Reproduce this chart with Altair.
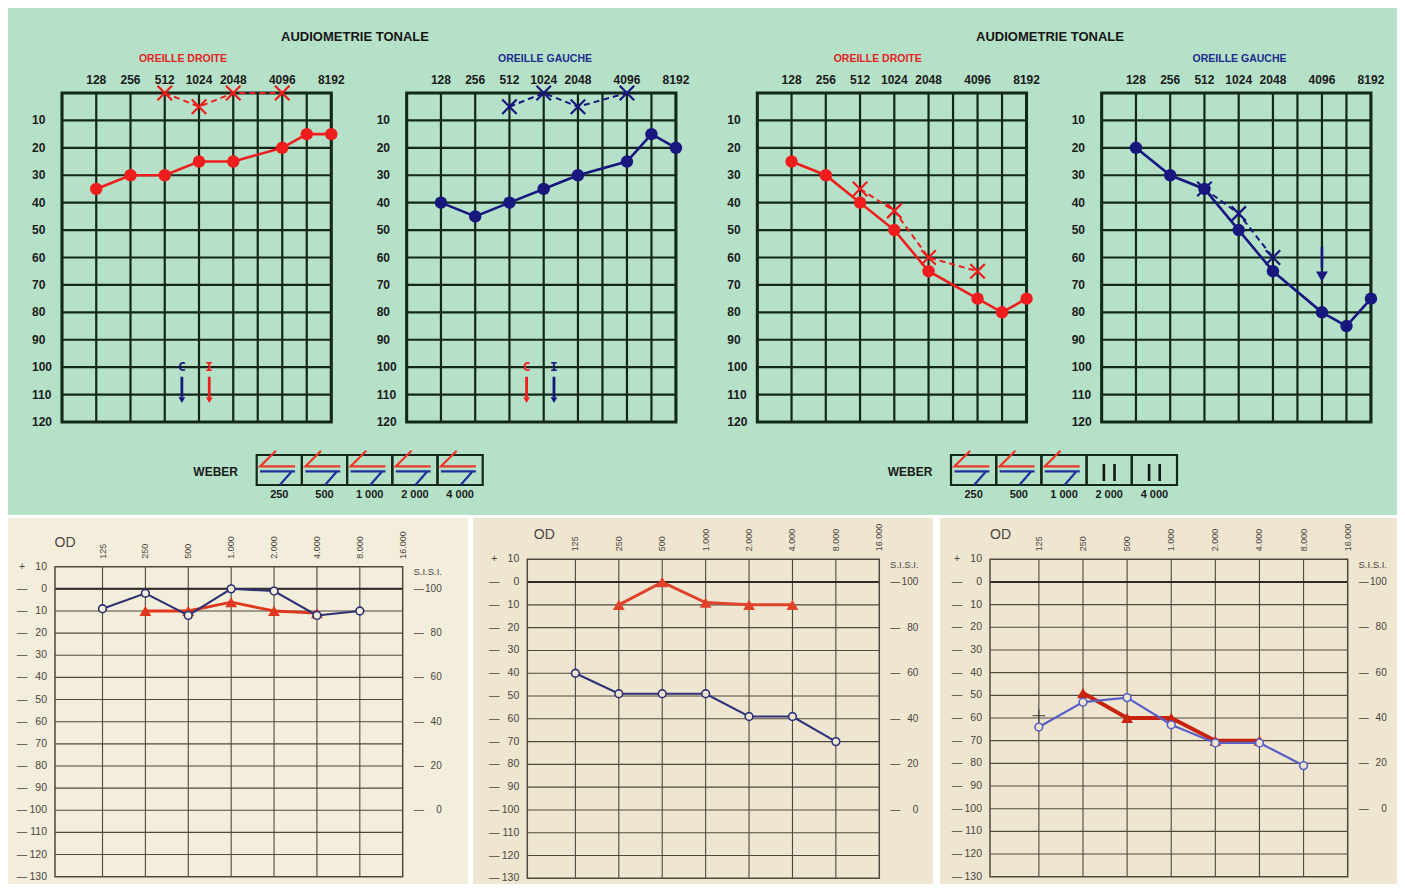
import altair as alt
import pandas as pd

# ---------------- data ----------------
# Upper audiograms (AUDIOMETRIE TONALE), thresholds in dB
top_freqs = [128, 256, 512, 1024, 2048, 4096, 6144, 8192]
od_a_air = [35, 30, 30, 25, 25, 20, 15, 15]
og_a_air = [40, 45, 40, 35, 30, 25, 15, 20]
od_b_air = [25, 30, 40, 50, 65, 75, 80, 75]
og_b_air = [20, 30, 35, 50, 65, 80, 85, 75]

bone_freqs = [512, 1024, 2048, 4096]
od_a_bone = [0, 5, 0, 0]
og_a_bone = [5, 0, 5, 0]
od_b_bone = [35, 43, 60, 65]
og_b_bone_freqs = [512, 1024, 2048]
og_b_bone = [35, 44, 60]

reflex_freqs = [768, 1331]
reflex_letters = ["C", "I"]
reflex_db = 100

og_b_arrow_freq = 4096
og_b_arrow_db = [56, 67]

weber_freqs = ["250", "500", "1 000", "2 000", "4 000"]
weber_a = ["lat", "lat", "lat", "lat", "lat"]
weber_b = ["lat", "lat", "lat", "mid", "mid"]

top_grid_freqs = [64, 128, 256, 512, 1024, 2048, 3072, 4096, 6144, 8192]
top_label_freqs = [128, 256, 512, 1024, 2048, 4096, 8192]
top_db_lines = list(range(0, 130, 10))
top_db_labels = list(range(10, 130, 10))

# Lower audiograms (OD)
low_freqs = [125, 250, 500, 1000, 2000, 4000, 8000]
low_label_freqs = [125, 250, 500, 1000, 2000, 4000, 8000, 16000]
low_labels = ["125", "250", "500", "1.000", "2.000", "4.000", "8.000", "16.000"]
red_freqs = [250, 500, 1000, 2000, 4000]
p1_blue = [9, 2, 12, 0, 1, 12, 10]
p1_red = [10, 10, 6, 10, 11]
p2_blue = [40, 49, 49, 49, 59, 59, 70]
p2_red = [10, 0, 9, 10, 10]
p3_blue = [64, 53, 51, 63, 71, 71, 81]
p3_red = [49, 60, 60, 70, 70]
p3_mark_freq = [125]
p3_mark_db = [59]
low_db_lines = list(range(0, 130, 10))
low_db_labels = list(range(-10, 140, 10))
sisi_values = [100, 80, 60, 40, 20, 0]

# ---------------- styling ----------------
FONT = "Liberation Sans"
GREEN = "#b5e1c8"
GRID_T = "#13271a"
RED = "#ef1d1d"
NAVY = "#17177e"
TITLE_RED = "#e3241f"
TITLE_NAVY = "#1f2b8c"
W_RED = "#f0362b"
W_BLUE = "#22309c"
GRID_B = "#50473f"
TXT_B = "#4a4540"
XPATH = "M-1,-1L1,1M1,-1L-1,1"
PLUS = "M-1,0L1,0M0,-1L0,1"
W_RED_PATH = "M-0.18,-0.89L-1.01,-0.07L0.83,-0.07"
W_BLUE_PATH = "M-1.01,0.19L0.83,0.19M0.66,0.19L0.04,0.9"
W_MID_PATH = "M-0.28,-0.2L-0.28,0.7M0.28,-0.2L0.28,0.7"


def P(v):
    return v - 8


ONE = pd.DataFrame({"a": [0]})


def vtext(txt, x, y, **kw):
    return alt.Chart(ONE).mark_text(text=txt, font=FONT, baseline="middle", **kw).encode(
        x=alt.value(P(x)), y=alt.value(P(y)))


def vrect(x0, x1, y0, y1, color):
    return alt.Chart(ONE).mark_rect(color=color, opacity=1).encode(
        x=alt.value(P(x0)), x2=alt.value(P(x1)), y=alt.value(P(y0)), y2=alt.value(P(y1)))


def top_panel(left, air, bfreqs, bone, color, title, tcolor, title_x,
              reflex_colors=None, arrow=False):
    xs = alt.Scale(type="linear",
                   domain=[64, 128, 256, 512, 1024, 2048, 4096, 8192],
                   range=[P(left + k * 34.25) for k in range(6)] + [P(left + 220.25), P(left + 269.25)],
                   zero=False, nice=False)
    ys = alt.Scale(domain=[0, 120], range=[P(93), P(422)], zero=False, nice=False)

    def X(f):
        return alt.X(f, type="quantitative", scale=xs, axis=None)

    def Y(f):
        return alt.Y(f, type="quantitative", scale=ys, axis=None)

    vg = pd.DataFrame({"f": top_grid_freqs, "d0": 0, "d1": 120})
    hg = pd.DataFrame({"d": top_db_lines, "f0": 64, "f1": 8192})
    box = pd.DataFrame({"f0": [64], "f1": [8192], "d0": [0], "d1": [120]})
    air_df = pd.DataFrame({"f": top_freqs, "d": air})
    bone_df = pd.DataFrame({"f": bfreqs, "d": bone})
    layers = [
        alt.Chart(vg).mark_rule(color=GRID_T, strokeWidth=2.2).encode(x=X("f"), y=Y("d0"), y2="d1"),
        alt.Chart(hg).mark_rule(color=GRID_T, strokeWidth=2.2).encode(x=X("f0"), x2="f1", y=Y("d")),
        alt.Chart(box).mark_rect(fill="transparent", stroke=GRID_T, strokeWidth=3).encode(
            x=X("f0"), x2="f1", y=Y("d0"), y2="d1"),
        alt.Chart(pd.DataFrame({"d": top_db_labels})).mark_text(
            align="left", baseline="middle", font=FONT, fontWeight="bold", fontSize=12, color="#1b1b1b"
        ).encode(x=alt.value(P(left - 30)), y=Y("d"), text="d:N"),
        alt.Chart(pd.DataFrame({"f": top_label_freqs})).mark_text(
            baseline="middle", font=FONT, fontWeight="bold", fontSize=12, color="#1b1b1b"
        ).encode(x=X("f"), y=alt.value(P(80)), text="f:N"),
        vtext(title, title_x, 59, fontWeight="bold", fontSize=10.5, color=tcolor),
        alt.Chart(bone_df).mark_line(color=color, strokeWidth=2, strokeDash=[6, 4]).encode(x=X("f"), y=Y("d")),
        alt.Chart(bone_df).mark_point(shape=XPATH, size=210, strokeWidth=2.2, color=color,
                                      filled=False, opacity=1).encode(x=X("f"), y=Y("d")),
        alt.Chart(air_df).mark_line(color=color, strokeWidth=2.6).encode(x=X("f"), y=Y("d")),
        alt.Chart(air_df).mark_circle(color=color, size=155, opacity=1).encode(x=X("f"), y=Y("d")),
    ]
    if reflex_colors is not None:
        rf = pd.DataFrame({"f": reflex_freqs, "t": reflex_letters, "c": reflex_colors,
                           "d": reflex_db, "a0": 103.5, "a1": 111, "h": 112})
        layers += [
            alt.Chart(rf).mark_text(font="DejaVu Sans Mono", fontWeight="bold", fontSize=13,
                                    baseline="middle").encode(
                x=X("f"), y=Y("d"), text="t:N", color=alt.Color("c:N", scale=None)),
            alt.Chart(rf).mark_rule(strokeWidth=2.8).encode(
                x=X("f"), y=Y("a0"), y2="a1", color=alt.Color("c:N", scale=None)),
            alt.Chart(rf).mark_point(shape="triangle-down", size=45, filled=True, opacity=1).encode(
                x=X("f"), y=Y("h"), color=alt.Color("c:N", scale=None)),
        ]
    if arrow:
        ar = pd.DataFrame({"f": [og_b_arrow_freq], "a0": [og_b_arrow_db[0]], "a1": [og_b_arrow_db[1] - 3],
                           "h": [og_b_arrow_db[1]]})
        layers += [
            alt.Chart(ar).mark_rule(color=color, strokeWidth=2.6).encode(x=X("f"), y=Y("a0"), y2="a1"),
            alt.Chart(ar).mark_point(shape="triangle-down", size=140, filled=True, color=color,
                                     opacity=1).encode(x=X("f"), y=Y("h")),
        ]
    return alt.layer(*layers)


def weber(L, results):
    ws = alt.Scale(domain=[0, 5], range=[P(L), P(L + 226)], zero=False, nice=False)
    df = pd.DataFrame({"i": list(range(5)), "i1": list(range(1, 6)),
                       "c": [i + 0.5 for i in range(5)], "lab": weber_freqs, "r": results})

    def X(f):
        return alt.X(f, type="quantitative", scale=ws, axis=None)

    return alt.layer(
        alt.Chart(df).mark_rect(fill="transparent", stroke=GRID_T, strokeWidth=2.2).encode(
            x=X("i"), x2="i1", y=alt.value(P(455)), y2=alt.value(P(485))),
        alt.Chart(df).transform_filter("datum.r == 'lat'").mark_point(
            shape=W_RED_PATH, size=1444, strokeWidth=2.2, color=W_RED, filled=False, opacity=1
        ).encode(x=X("c"), y=alt.value(P(467.7))),
        alt.Chart(df).transform_filter("datum.r == 'lat'").mark_point(
            shape=W_BLUE_PATH, size=1444, strokeWidth=2.2, color=W_BLUE, filled=False, opacity=1
        ).encode(x=X("c"), y=alt.value(P(467.7))),
        alt.Chart(df).transform_filter("datum.r == 'mid'").mark_point(
            shape=W_MID_PATH, size=1444, strokeWidth=2.6, color="#151515", filled=False, opacity=1
        ).encode(x=X("c"), y=alt.value(P(467.7))),
        alt.Chart(df).mark_text(font=FONT, fontWeight="bold", fontSize=11, color="#1b1b1b",
                                baseline="middle").encode(x=X("c"), y=alt.value(P(494.5)), text="lab:N"),
        vtext("WEBER", L - 41, 471.5, fontWeight="bold", fontSize=12, color="#1b1b1b"),
    )


def bottom_panel(bx0, bx1, bg, left, right, top, bottom, od_dx, blue, red, blue_c, red_c,
                 blue_w, red_w, extra=False):
    xs = alt.Scale(type="log", base=2, domain=[58, 16000], range=[P(left), P(right)], nice=False, zero=False)
    ys = alt.Scale(domain=[-10, 130], range=[P(top), P(bottom)], nice=False, zero=False)

    def X(f):
        return alt.X(f, type="quantitative", scale=xs, axis=None)

    def Y(f):
        return alt.Y(f, type="quantitative", scale=ys, axis=None)

    vg = pd.DataFrame({"f": low_freqs, "d0": -10, "d1": 130})
    hg = pd.DataFrame({"d": low_db_lines, "f0": 58, "f1": 16000})
    zero = pd.DataFrame({"d": [0], "f0": [58], "f1": [16000]})
    box = pd.DataFrame({"f0": [58], "f1": [16000], "d0": [-10], "d1": [130]})
    lab = pd.DataFrame({"d": low_db_labels,
                        "num": [str(abs(v)) for v in low_db_labels],
                        "pre": ["+" if v < 0 else "\u2014" for v in low_db_labels]})
    top_lab = pd.DataFrame({"f": low_label_freqs, "t": low_labels})
    sisi = pd.DataFrame({"s": sisi_values, "d": [100 - s for s in sisi_values]})
    bl = pd.DataFrame({"f": low_freqs, "d": blue})
    rd = pd.DataFrame({"f": red_freqs, "d": red})
    layers = [
        vrect(bx0, bx1, 518, 892, bg),
        alt.Chart(vg).mark_rule(color=GRID_B, strokeWidth=1.1).encode(x=X("f"), y=Y("d0"), y2="d1"),
        alt.Chart(hg).mark_rule(color=GRID_B, strokeWidth=1.1).encode(x=X("f0"), x2="f1", y=Y("d")),
        alt.Chart(zero).mark_rule(color="#2f2a26", strokeWidth=2).encode(x=X("f0"), x2="f1", y=Y("d")),
        alt.Chart(box).mark_rect(fill="transparent", stroke=GRID_B, strokeWidth=1.5).encode(
            x=X("f0"), x2="f1", y=Y("d0"), y2="d1"),
        alt.Chart(lab).mark_text(font=FONT, fontSize=10.5, color=TXT_B, align="right", baseline="middle").encode(
            x=alt.value(P(left - 8)), y=Y("d"), text="num:N"),
        alt.Chart(lab).mark_text(font=FONT, fontSize=10.5, color=TXT_B, align="center", baseline="middle").encode(
            x=alt.value(P(left - 33)), y=Y("d"), text="pre:N"),
        alt.Chart(top_lab).mark_text(font=FONT, fontSize=9, color=TXT_B, angle=270, align="left",
                                     baseline="middle").encode(x=X("f"), y=alt.value(P(top - 8)), text="t:N"),
        alt.Chart(sisi).mark_text(font=FONT, fontSize=10, color=TXT_B, align="right", baseline="middle").encode(
            x=alt.value(P(right + 39)), y=Y("d"), text="s:N"),
        alt.Chart(sisi).mark_text(font=FONT, fontSize=10, color=TXT_B, text="\u2014", baseline="middle").encode(
            x=alt.value(P(right + 16)), y=Y("d")),
        vtext("S.I.S.I.", right + 25, top + 5.5, fontSize=9.5, color=TXT_B),
        vtext("OD", left + od_dx, top - 24, fontSize=14, color=TXT_B),
        alt.Chart(rd).mark_line(color=red_c, strokeWidth=red_w).encode(x=X("f"), y=Y("d")),
        alt.Chart(rd).mark_point(shape="triangle-up", size=140, filled=True, color=red_c, opacity=1).encode(
            x=X("f"), y=Y("d")),
        alt.Chart(bl).mark_line(color=blue_c, strokeWidth=blue_w).encode(x=X("f"), y=Y("d")),
        alt.Chart(bl).mark_point(shape="circle", size=60, filled=True, fill=bg, stroke=blue_c,
                                 strokeWidth=1.6, opacity=1).encode(x=X("f"), y=Y("d")),
    ]
    if extra:
        mk = pd.DataFrame({"f": p3_mark_freq, "d": p3_mark_db})
        layers.append(alt.Chart(mk).mark_point(shape=PLUS, size=160, strokeWidth=1, color="#3a3a3a",
                                               filled=False, opacity=1).encode(x=X("f"), y=Y("d")))
    return alt.layer(*layers)


layers = [
    vrect(5, 1400, 5, 515, GREEN),
    vtext("AUDIOMETRIE TONALE", 355, 37, fontWeight="bold", fontSize=13, color="#151515"),
    vtext("AUDIOMETRIE TONALE", 1050, 37, fontWeight="bold", fontSize=13, color="#151515"),
    top_panel(62, od_a_air, bone_freqs, od_a_bone, RED, "OREILLE DROITE", TITLE_RED, 183,
              reflex_colors=[NAVY, RED]),
    top_panel(406.7, og_a_air, bone_freqs, og_a_bone, NAVY, "OREILLE GAUCHE", TITLE_NAVY, 545,
              reflex_colors=[RED, NAVY]),
    top_panel(757.3, od_b_air, bone_freqs, od_b_bone, RED, "OREILLE DROITE", TITLE_RED, 877.7),
    top_panel(1101.7, og_b_air, og_b_bone_freqs, og_b_bone, NAVY, "OREILLE GAUCHE", TITLE_NAVY, 1239.5,
              arrow=True),
    weber(256.7, weber_a),
    weber(951, weber_b),
    bottom_panel(5, 468, "#f3eedb", 55, 402.7, 566.7, 876.7, 10, p1_blue, p1_red,
                 "#2c2f70", "#e0381f", 2.0, 2.8),
    bottom_panel(473, 933, "#efe6d2", 527.3, 879.3, 559.3, 878.3, 17, p2_blue, p2_red,
                 "#2e3378", "#e0432a", 2.2, 3.0),
    bottom_panel(940, 1400, "#efe6d1", 990, 1347.7, 559.3, 876.7, 10.5, p3_blue, p3_red,
                 "#5a5fc6", "#c8230f", 2.2, 4.0, extra=True),
]

chart = alt.layer(*layers).resolve_scale(x="independent", y="independent").properties(
    width=1389, height=876,
    autosize=alt.AutoSizeParams(type="none"),
    padding=0,
    background="white",
).configure_view(stroke=None)

chart.save("out.html", embed_options={"renderer": "svg", "actions": False})
